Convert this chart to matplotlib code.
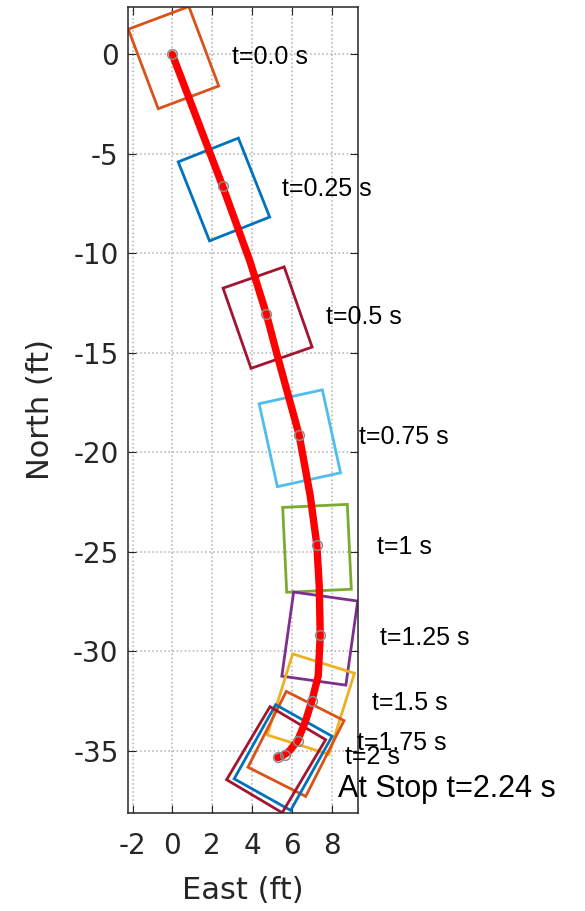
import numpy as np
import matplotlib
matplotlib.use("Agg")
import matplotlib.pyplot as plt
from matplotlib.patches import Rectangle

plt.rcParams["font.family"] = ["Liberation Sans", "DejaVu Sans"]
plt.rcParams["axes.unicode_minus"] = False

# ── data (ft) ───────────────────────────────────────────────────────────────
LABELS = ["t=0.0 s", "t=0.25 s", "t=0.5 s", "t=0.75 s", "t=1 s",
          "t=1.25 s", "t=1.5 s", "t=1.75 s", "t=2 s", "At Stop t=2.24 s"]
EAST  = [0.0, 2.53, 4.73, 6.37, 7.26, 7.43, 7.01, 6.29, 5.65, 5.30]
NORTH = [0.0, -6.63, -13.07, -19.13, -24.66, -29.20, -32.50, -34.51, -35.20, -35.31]
YAW   = [20.6, 21.6, 19.2, 12.4, 2.7, -8.0, -17.4, -26.8, -29.2, -30.7]   # deg, CCW
BOX_COLORS = ["#D95319", "#0072BD", "#A2142F", "#4DBEEE", "#77AC30",
              "#7E2F8E", "#EDB120", "#D95319", "#0072BD", "#A2142F"]

PATH_EAST  = [0.0, 2.53, 3.9, 4.73, 5.28, 6.37, 6.93, 7.26, 7.38,
              7.43, 7.33, 7.01, 6.67, 6.29, 5.85, 5.55, 5.30]
PATH_NORTH = [0.0, -6.63, -10.4, -13.07, -15.16, -19.13, -22.2, -24.66, -26.72,
              -29.20, -31.24, -32.50, -33.58, -34.51, -35.05, -35.25, -35.35]

CAR_W, CAR_L = 3.25, 4.27     # vehicle footprint
REF_OFFSET   = 0.17           # box centre ahead of reference point
LABEL_DX     = 3.0

FG = "#262626"
AX_FONT = ["DejaVu Sans"]

fig = plt.figure(figsize=(5.85, 9.11), dpi=100)
ax = fig.add_axes([128.3 / 585, (911 - 812.7) / 911, 229.4 / 585, 806.2 / 911])

# vehicle footprints
corners = []
for e, n, yaw, col in zip(EAST, NORTH, YAW, BOX_COLORS):
    th = np.radians(yaw)
    cx = e + REF_OFFSET * np.sin(th)
    cy = n - REF_OFFSET * np.cos(th)
    rect = Rectangle((cx - CAR_W / 2, cy - CAR_L / 2), CAR_W, CAR_L, angle=yaw,
                     rotation_point="center", fill=False, edgecolor=col, lw=2.0, zorder=2)
    ax.add_patch(rect)
    corners.append(rect.get_corners())
corners = np.vstack(corners)

# trajectory
ax.plot(PATH_EAST, PATH_NORTH, color="red", lw=5.3, solid_capstyle="round",
        solid_joinstyle="round", zorder=3)
ax.plot(EAST, NORTH, "o", ms=7, mfc="none", mec="#8c8c8c", mew=1.1, zorder=4)

# time labels
for i, (e, n, lbl) in enumerate(zip(EAST, NORTH, LABELS)):
    last = i == len(LABELS) - 1
    ax.text(e + LABEL_DX, n - (1.6 if last else 0.12), lbl,
            fontsize=22 if last else 18, ha="left", va="center", color="black", zorder=5)

# axes styling
ax.set_xlim(corners[:, 0].min(), corners[:, 0].max())
ax.set_ylim(corners[:, 1].min(), corners[:, 1].max())
ax.set_xticks(np.arange(-2, 9, 2))
ax.set_yticks(np.arange(-35, 1, 5))
ax.grid(True, ls=":", color="#b0b0b0", lw=1.1)
ax.set_axisbelow(True)
ax.tick_params(axis="both", direction="in", length=6, width=0.8, colors=FG,
               labelsize=20, top=True, right=True)
ax.tick_params(axis="x", pad=14)
ax.tick_params(axis="y", pad=7)
for lab in ax.get_xticklabels() + ax.get_yticklabels():
    lab.set_family(AX_FONT)
for sp in ax.spines.values():
    sp.set_color(FG)
    sp.set_linewidth(1.1)

ax.set_xlabel("East (ft)", fontsize=22, color=FG, family=AX_FONT)
ax.set_ylabel("North (ft)", fontsize=22, color=FG, family=AX_FONT)
ax.xaxis.set_label_coords(0.5, -0.079)
ax.yaxis.set_label_coords(-0.318, 0.5)

fig.savefig("out.png", dpi=100)
